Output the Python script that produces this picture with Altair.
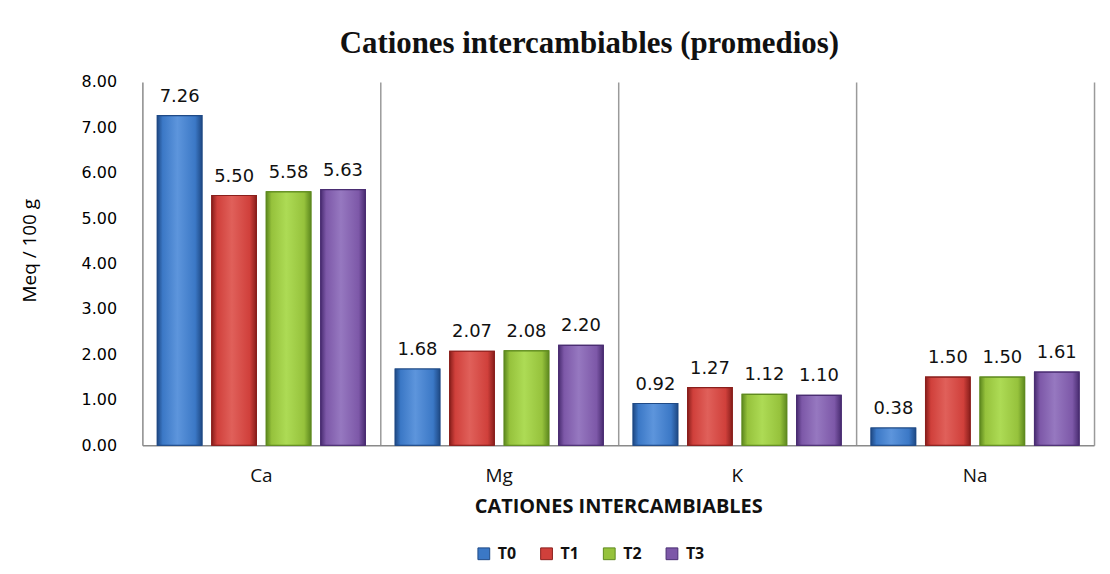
import altair as alt
import pandas as pd

cationes = ["Ca", "Mg", "K", "Na"]
tratamientos = ["T0", "T1", "T2", "T3"]
T0 = [7.26, 1.68, 0.92, 0.38]
T1 = [5.50, 2.07, 1.27, 1.50]
T2 = [5.58, 2.08, 1.12, 1.50]
T3 = [5.63, 2.20, 1.10, 1.61]

colores = ["#3b78c6", "#d0403b", "#96c23c", "#7d58a8"]
claros = ["#5d95dc", "#e0605a", "#addb55", "#9678c0"]
bordes = ["#1f4a86", "#8a1f1c", "#5f8a1f", "#4a2d72"]

rows = []
for serie, vals in zip(tratamientos, [T0, T1, T2, T3]):
    for c, v in zip(cationes, vals):
        rows.append({"Cation": c, "Tratamiento": serie, "Valor": v})
df = pd.DataFrame(rows)

base = alt.Chart(df).encode(
    x=alt.X(
        "Cation:N",
        sort=cationes,
        scale=alt.Scale(paddingInner=0, paddingOuter=0),
        axis=alt.Axis(
            title="CATIONES INTERCAMBIABLES",
            labelAngle=0,
            labelFont="Open Sans",
            labelFontSize=19,
            labelColor="#111",
            labelPadding=21,
            ticks=False,
            tickSize=0,
            domainColor="#8a8a8a",
            domainWidth=1.5,
            grid=True,
            gridColor="#9a9a9a",
            gridWidth=1.5,
            bandPosition=1,
            titleFont="Open Sans",
            titleFontSize=20,
            titleFontWeight="bold",
            titleColor="#111",
            titleX=478,
            titleY=62,
            titleBaseline="middle",
            titleAlign="center",
        ),
    ),
    xOffset=alt.XOffset(
        "Tratamiento:N",
        sort=tratamientos,
        scale=alt.Scale(paddingInner=0.183, paddingOuter=0.275),
    ),
    y=alt.Y(
        "Valor:Q",
        scale=alt.Scale(domain=[0, 8], nice=False),
        axis=alt.Axis(
            title="Meq / 100 g",
            values=[0, 1, 2, 3, 4, 5, 6, 7, 8],
            format=".2f",
            grid=False,
            ticks=False,
            tickSize=0,
            labelFont="DejaVu Sans",
            labelFontSize=16,
            labelColor="#000",
            labelPadding=26,
            domainColor="#8a8a8a",
            domainWidth=1.5,
            titleFont="Open Sans",
            titleFontSize=19,
            titleFontWeight="normal",
            titleColor="#000",
            titleX=-113,
            titleY=169,
            titleBaseline="middle",
            titleAlign="center",
            titleAngle=-90,
        ),
    ),
)

bars = base.mark_bar(strokeWidth=1.2).encode(
    color=alt.Color(
        "Tratamiento:N",
        sort=tratamientos,
        scale=alt.Scale(domain=tratamientos, range=colores),
        legend=alt.Legend(
            title=None,
            orient="none",
            direction="horizontal",
            legendX=335,
            legendY=466,
            symbolType="square",
            symbolSize=140,
            symbolStrokeWidth=1,
            labelFont="Open Sans",
            labelFontSize=16,
            labelFontWeight="bold",
            labelColor="#111",
            labelOffset=6,
            columnPadding=22,
        ),
    ),
    stroke=alt.Stroke(
        "Tratamiento:N",
        sort=tratamientos,
        scale=alt.Scale(domain=tratamientos, range=bordes),
        legend=None,
    ),
)

# bevel-like shading layers, one per series
shade_layers = []
for serie, c, l, b in zip(tratamientos, colores, claros, bordes):
    grad = alt.LinearGradient(
        gradient="linear",
        x1=0, x2=1, y1=0, y2=0,
        stops=[
            alt.GradientStop(color=b, offset=0),
            alt.GradientStop(color=c, offset=0.12),
            alt.GradientStop(color=l, offset=0.45),
            alt.GradientStop(color=c, offset=0.85),
            alt.GradientStop(color=b, offset=1),
        ],
    )
    shade_layers.append(
        base.transform_filter(alt.datum.Tratamiento == serie).mark_bar(
            color=grad, stroke=b, strokeWidth=1.2
        )
    )

labels = base.mark_text(
    font="DejaVu Sans",
    fontSize=18,
    color="#111",
    baseline="alphabetic",
    dy=-14,
).encode(text=alt.Text("Valor:Q", format=".2f"))

chart = (
    alt.layer(bars, *shade_layers, labels)
    .properties(
        width=956,
        height=365,
        autosize=alt.AutoSizeParams(type="none"),
        padding={"left": 135, "top": 73, "right": 8, "bottom": 120},
        title=alt.TitleParams(
            "Cationes intercambiables (promedios)",
            font="Liberation Serif",
            fontSize=31,
            fontWeight="bold",
            color="#111",
            anchor="middle",
            dx=-29,
            offset=14,
        ),
    )
    .configure_view(stroke=None)
)

chart.save("out.html", embed_options={"renderer": "svg", "actions": False})
